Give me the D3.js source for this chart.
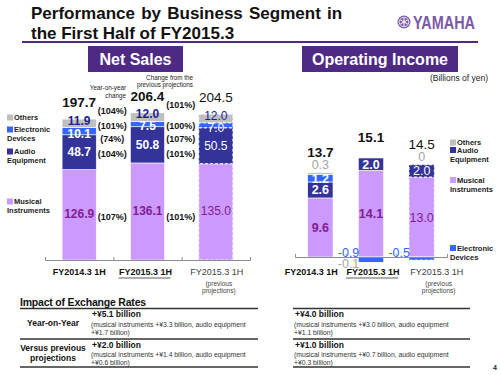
<!DOCTYPE html>
<html>
<head>
<meta charset="utf-8">
<script src="https://cdn.jsdelivr.net/npm/d3@7"></script>
<style>
  body { margin: 0; background: #fff; }
  svg { display: block; font-family: "Liberation Sans", Arial, sans-serif; }
</style>
</head>
<body>
<svg id="chart" width="500" height="375"></svg>
<script>
// periods on the x axis (third one is the previous projection)
const periods = ['FY2014.3 1H', 'FY2015.3 1H', 'FY2015.3 1H'];
const segmentKeys = ['musical', 'audio', 'electronic', 'others'];

// net sales, billions of yen
const salesMusical = [126.9, 136.1, 135.0];
const salesAudio = [48.7, 50.8, 50.5];
const salesElectronic = [10.1, 7.5, 7.0];
const salesOthers = [11.9, 12.0, 12.0];
const salesTotal = [197.7, 206.4, 204.5];

// change labels: total, others, electronic, audio, musical
const yoyChange = ['(104%)', '(101%)', '(74%)', '(104%)', '(107%)'];
const vsProjection = ['(101%)', '(100%)', '(107%)', '(101%)', '(101%)'];

// operating income, billions of yen
const incomeMusical = [9.6, 14.1, 13.0];
const incomeAudio = [2.6, 2.0, 2.0];
const incomeElectronic = [1.2, -0.9, -0.5];
const incomeOthers = [0.3, -0.1, 0];
const incomeTotal = [13.7, 15.1, 14.5];

// impact of exchange rates
const fxRows = [['Year-on-Year'], ['Versus previous', 'projections']];
const fxSalesMain = ['+¥5.1 billion', '+¥2.0 billion'];
const fxSalesDetail = [
  ['(musical instruments +¥3.3 billion, audio equipment', '+¥1.7 billion)'],
  ['(musical instruments +¥1.4 billion, audio equipment', '+¥0.6 billion)'],
];
const fxIncomeMain = ['+¥4.0 billion', '+¥1.0 billion'];
const fxIncomeDetail = [
  ['(musical instruments +¥3.0 billion, audio equipment', '+¥1.1 billion)'],
  ['(musical instruments +¥0.7 billion, audio equipment', '+¥0.3 billion)'],
];

const colors = {
  musical: '#CC99FF',
  audio: '#333399',
  electronic: '#3366FF',
  others: '#BFBFBF',
};
const purple = '#4E2A84';
const labelPurple = '#80208F';

const svg = d3.select('#chart');

// ---- header ----
svg.append('text')
  .attr('x', 31).attr('y', 19)
  .attr('font-size', 17).attr('font-weight', 'bold').attr('fill', '#111')
  .attr('word-spacing', 1.5)
  .text('Performance by Business Segment in');
svg.append('text')
  .attr('x', 31).attr('y', 39)
  .attr('font-size', 17).attr('font-weight', 'bold').attr('fill', '#111')
  .text('the First Half of FY2015.3');
svg.append('line')
  .attr('x1', 22).attr('x2', 478).attr('y1', 42).attr('y2', 42)
  .attr('stroke', purple).attr('stroke-width', 2);

// yamaha logo
const logo = svg.append('g').attr('transform', 'translate(404,22)');
logo.append('circle').attr('r', 6.5).attr('fill', '#7B5AA6');
logo.append('circle').attr('r', 4.8).attr('fill', 'none').attr('stroke', '#fff').attr('stroke-width', 0.8);
[0, 60, 120].forEach(a => {
  logo.append('line')
    .attr('x1', 0).attr('y1', -4.2).attr('x2', 0).attr('y2', 4.2)
    .attr('stroke', '#fff').attr('stroke-width', 1)
    .attr('transform', `rotate(${a})`);
});
svg.append('text')
  .attr('x', 413).attr('y', 28.5)
  .attr('font-size', 18).attr('font-weight', 'bold').attr('fill', '#7B5AA6')
  .attr('textLength', 62).attr('lengthAdjust', 'spacingAndGlyphs')
  .text('YAMAHA');

// section boxes
function sectionBox(x, w, label) {
  svg.append('rect')
    .attr('x', x).attr('y', 46).attr('width', w).attr('height', 26)
    .attr('fill', purple);
  svg.append('text')
    .attr('x', x + w / 2).attr('y', 65)
    .attr('text-anchor', 'middle')
    .attr('font-size', 16).attr('font-weight', 'bold').attr('fill', '#fff')
    .text(label);
}
sectionBox(88, 95, 'Net Sales');
sectionBox(302, 156, 'Operating Income');

svg.append('text')
  .attr('x', 488).attr('y', 81)
  .attr('text-anchor', 'end').attr('font-size', 8.5).attr('fill', '#222')
  .text('(Billions of yen)');

// ---- shared helpers ----
function buildRows(musical, audio, electronic, others) {
  return periods.map((p, i) => ({
    index: i,
    musical: musical[i],
    audio: audio[i],
    electronic: electronic[i],
    others: others[i],
  }));
}

const stack = d3.stack()
  .keys(segmentKeys)
  .offset(d3.stackOffsetDiverging);

function drawAxis(g, x, baseY) {
  const edges = d3.scaleLinear()
    .domain([0, periods.length])
    .range(x.range());
  const axis = d3.axisTop(edges)
    .tickValues(d3.range(periods.length + 1))
    .tickSize(3)
    .tickSizeOuter(3)
    .tickFormat('');
  const a = g.append('g')
    .attr('transform', `translate(0,${baseY})`)
    .call(axis);
  a.selectAll('path, line').attr('stroke', '#8C8C8C');
}

function drawBars(g, series, x, y) {
  series.forEach(s => {
    g.selectAll(`.bar-${s.key}`)
      .data(s)
      .enter()
      .append('rect')
      .attr('class', `bar-${s.key}`)
      .attr('x', d => x(d.data.index))
      .attr('y', d => y(Math.max(d[0], d[1])))
      .attr('width', x.bandwidth())
      .attr('height', d => Math.abs(y(d[0]) - y(d[1])))
      .attr('fill', colors[s.key])
      .attr('stroke', '#fff')
      .attr('stroke-width', d => (d.data.index === 2 ? 1 : 0.6))
      .attr('stroke-dasharray', d => (d.data.index === 2 ? '3,2' : null));
  });
}

function drawPeriodLabels(g, x, offsets) {
  periods.forEach((p, i) => {
    const cx = x(i) + x.bandwidth() / 2 + offsets[i];
    const proj = i === 2;
    g.append('text')
      .attr('x', cx).attr('y', 275)
      .attr('text-anchor', 'middle')
      .attr('font-size', 9)
      .attr('font-weight', proj ? 'normal' : 'bold')
      .attr('fill', proj ? '#404040' : '#111')
      .text(p);
    if (i === 1) {
      g.append('line')
        .attr('x1', cx - 27).attr('x2', cx + 25)
        .attr('y1', 278).attr('y2', 278)
        .attr('stroke', '#333').attr('stroke-width', 0.8);
    }
    if (proj) {
      ['(previous', 'projections)'].forEach((t, k) => {
        g.append('text')
          .attr('x', cx + 2).attr('y', 285.5 + k * 7)
          .attr('text-anchor', 'middle')
          .attr('font-size', 6.5).attr('fill', '#444')
          .text(t);
      });
    }
  });
}

function drawLegend(g, items) {
  items.forEach(it => {
    g.append('rect')
      .attr('x', it.x).attr('y', it.y - 5.5)
      .attr('width', 6).attr('height', 6)
      .attr('fill', colors[it.key]);
    it.lines.forEach((t, k) => {
      g.append('text')
        .attr('x', k === 0 ? it.x + 7 : it.x)
        .attr('y', it.y + k * 9)
        .attr('font-size', 7.5).attr('font-weight', 'bold').attr('fill', '#222')
        .text(t);
    });
  });
}

// ---- net sales ----
const salesG = svg.append('g');
const xS = d3.scaleBand()
  .domain(d3.range(periods.length))
  .range([45, 250])
  .paddingInner(0.5)
  .paddingOuter(0.25);
const yS = d3.scaleLinear()
  .domain([0, 200])
  .range([260, 260 - 142.6]);

const salesRows = buildRows(salesMusical, salesAudio, salesElectronic, salesOthers);
const salesSeries = stack(salesRows);

drawBars(salesG, salesSeries, xS, yS);
drawAxis(salesG, xS, 260);

const salesLabelColor = {
  musical: labelPurple, audio: '#fff', electronic: '#fff', others: '#1F1F8F',
};
// thin top segments: nudge labels apart a little
const salesLabelShift = { musical: -1, audio: 0, electronic: 2, others: -3 };
salesSeries.forEach(s => {
  salesG.selectAll(`.lbl-${s.key}`)
    .data(s)
    .enter()
    .append('text')
    .attr('class', `lbl-${s.key}`)
    .attr('x', d => xS(d.data.index) + xS.bandwidth() / 2)
    .attr('y', d => yS((d[0] + d[1]) / 2) + salesLabelShift[s.key])
    .attr('dy', '0.36em')
    .attr('text-anchor', 'middle')
    .attr('font-size', 12)
    .attr('font-weight', d => (d.data.index === 2 ? 'normal' : 'bold'))
    .attr('fill', salesLabelColor[s.key])
    .text(d => d.data[s.key].toFixed(1));
});

salesTotal.forEach((t, i) => {
  salesG.append('text')
    .attr('x', xS(i) + xS.bandwidth() / 2)
    .attr('y', yS(t) - 12)
    .attr('text-anchor', 'middle')
    .attr('font-size', 13.5)
    .attr('font-weight', i === 2 ? 'normal' : 'bold')
    .attr('fill', '#111')
    .text(t.toFixed(1));
});

// change percentages sit in the gaps between bars
const firstBar = salesSeries.map(s => s[0]);
const rowKeys = ['others', 'electronic', 'audio', 'musical'];
const rowY = [];
rowKeys.forEach((k, r) => {
  const seg = firstBar.find((d, j) => salesSeries[j].key === k);
  let yy = yS((seg[0] + seg[1]) / 2) + 2;
  if (r > 0) yy = Math.max(yy, rowY[r - 1] + 13);
  rowY.push(yy);
});
[yoyChange, vsProjection].forEach((labels, g) => {
  const gapX = (xS(g) + xS.bandwidth() + xS(g + 1)) / 2 - 1;
  labels.forEach((t, r) => {
    const yy = r === 0 ? yS(salesTotal[g]) - 8 : rowY[r - 1];
    salesG.append('text')
      .attr('x', gapX).attr('y', yy)
      .attr('dy', '0.35em')
      .attr('text-anchor', 'middle')
      .attr('font-size', 9).attr('font-weight', 'bold').attr('fill', '#111')
      .text(t);
  });
});

['Year-on-year', 'change'].forEach((t, k) => {
  salesG.append('text')
    .attr('x', 126).attr('y', 90 + k * 7.5)
    .attr('text-anchor', 'end').attr('font-size', 6.3).attr('fill', '#222')
    .text(t);
});
['Change from the', 'previous projections'].forEach((t, k) => {
  salesG.append('text')
    .attr('x', 193).attr('y', 79.5 + k * 7.5)
    .attr('text-anchor', 'end').attr('font-size', 6.3).attr('fill', '#222')
    .text(t);
});

drawPeriodLabels(salesG, xS, [0, -2, 1]);
drawLegend(salesG, [
  { key: 'others', x: 7, y: 120, lines: ['Others'] },
  { key: 'electronic', x: 7, y: 132, lines: ['Electronic', 'Devices'] },
  { key: 'audio', x: 7, y: 154, lines: ['Audio', 'Equipment'] },
  { key: 'musical', x: 7, y: 204, lines: ['Musical', 'Instruments'] },
]);

// ---- operating income ----
const incomeG = svg.append('g');
const xI = d3.scaleBand()
  .domain(d3.range(periods.length))
  .range([295, 447])
  .paddingInner(0.5)
  .paddingOuter(0.25);
const yI = d3.scaleLinear()
  .domain([0, 10])
  .range([257, 257 - 61.5]);

const incomeRows = buildRows(incomeMusical, incomeAudio, incomeElectronic, incomeOthers);
const incomeSeries = stack(incomeRows);

drawBars(incomeG, incomeSeries, xI, yI);
drawAxis(incomeG, xI, 257);

const posTop = incomeRows.map(r => d3.sum(segmentKeys, k => Math.max(0, r[k])));

incomeSeries.forEach(s => {
  s.forEach(d => {
    const i = d.data.index;
    const v = d.data[s.key];
    const cx = xI(i) + xI.bandwidth() / 2;
    const left = xI(i) + 1;
    const weight = i === 2 ? 'normal' : 'bold';
    const t = incomeG.append('text').attr('font-size', 12.5);
    if (s.key === 'musical' || s.key === 'audio' || (s.key === 'electronic' && v > 0)) {
      t.attr('x', cx).attr('y', yI((d[0] + d[1]) / 2)).attr('dy', '0.36em')
        .attr('text-anchor', 'middle').attr('font-weight', weight)
        .attr('fill', s.key === 'musical' ? labelPurple : '#fff')
        .text(v.toFixed(1));
    } else if (s.key === 'electronic') {
      t.attr('x', left).attr('y', yI(0) - 0.5)
        .attr('text-anchor', 'end').attr('fill', colors.electronic)
        .text(v.toFixed(1));
    } else if (v < 0) {
      t.attr('x', left).attr('y', yI(0) + 10.5)
        .attr('text-anchor', 'end').attr('fill', '#A6A6A6')
        .text(v.toFixed(1));
    } else {
      t.attr('x', cx).attr('y', yI(posTop[i]) - 3.5)
        .attr('text-anchor', 'middle').attr('fill', '#A6A6A6')
        .text(v === 0 ? '0' : v.toFixed(1));
    }
  });
});

incomeTotal.forEach((t, i) => {
  incomeG.append('text')
    .attr('x', xI(i) + xI.bandwidth() / 2)
    .attr('y', yI(posTop[i]) - 15.5)
    .attr('text-anchor', 'middle')
    .attr('font-size', 13.5)
    .attr('font-weight', i === 2 ? 'normal' : 'bold')
    .attr('fill', '#111')
    .text(t.toFixed(1));
});

drawPeriodLabels(incomeG, xI, [-9, 2, 15]);
drawLegend(incomeG, [
  { key: 'others', x: 450, y: 145, lines: ['Others'] },
  { key: 'audio', x: 450, y: 152.5, lines: ['Audio', 'Equipment'] },
  { key: 'musical', x: 450, y: 182.5, lines: ['Musical', 'Instruments'] },
  { key: 'electronic', x: 450, y: 250.5, lines: ['Electronic', 'Devices'] },
]);

// ---- impact of exchange rates ----
const fxG = svg.append('g');
fxG.append('text')
  .attr('x', 20).attr('y', 306)
  .attr('font-size', 10.5).attr('font-weight', 'bold').attr('fill', '#111')
  .attr('letter-spacing', -0.2)
  .text('Impact of Exchange Rates');

function fxTable(x1, x2, mainX, mains, details, withHeads) {
  [308.5, 339, 367].forEach(yy => {
    fxG.append('line')
      .attr('x1', x1).attr('x2', x2).attr('y1', yy).attr('y2', yy)
      .attr('stroke', '#333').attr('stroke-width', 1.5);
  });
  const rowTop = [308.5, 339];
  mains.forEach((m, r) => {
    const top = rowTop[r];
    fxG.append('text')
      .attr('x', mainX).attr('y', top + 8.5)
      .attr('font-size', 8.5).attr('font-weight', 'bold').attr('fill', '#111')
      .text(m);
    details[r].forEach((t, k) => {
      fxG.append('text')
        .attr('x', mainX - 1).attr('y', top + 18 + k * 8.3)
        .attr('font-size', 6.8).attr('fill', '#333')
        .text(t);
    });
    if (withHeads) {
      const head = fxRows[r];
      head.forEach((t, k) => {
        fxG.append('text')
          .attr('x', 53)
          .attr('y', head.length === 1 ? top + 17.5 : top + 12 + k * 10)
          .attr('text-anchor', 'middle')
          .attr('font-size', 8.5).attr('font-weight', 'bold').attr('fill', '#111')
          .text(t);
      });
    }
  });
}
fxTable(20, 258, 92, fxSalesMain, fxSalesDetail, true);
fxTable(293, 470, 295, fxIncomeMain, fxIncomeDetail, false);

svg.append('text')
  .attr('x', 495).attr('y', 370)
  .attr('text-anchor', 'middle')
  .attr('font-size', 7).attr('font-weight', 'bold').attr('fill', '#222')
  .text('4');
</script>
</body>
</html>
